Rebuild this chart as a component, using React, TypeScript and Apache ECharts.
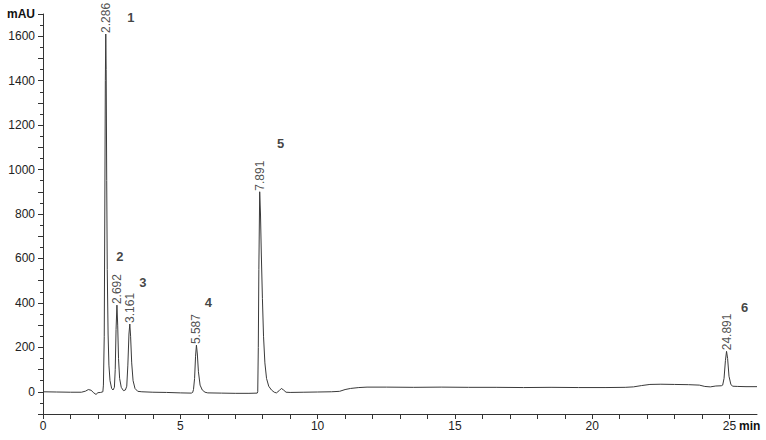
import React, { useEffect, useRef } from "react";
import * as echarts from "echarts";

// Chromatogram trace: [time (min), absorbance (mAU)]
const traceTimes: number[] = [
  0, 0.5, 1.0, 1.4, 1.55, 1.65, 1.75, 1.85, 1.93, 2.0, 2.1, 2.18,
  2.2, 2.23, 2.25, 2.27, 2.286, 2.3, 2.32, 2.34, 2.37, 2.4, 2.44, 2.5, 2.55,
  2.6, 2.63, 2.66, 2.692, 2.72, 2.75, 2.79, 2.85, 2.93, 3.0,
  3.05, 3.09, 3.13, 3.161, 3.19, 3.23, 3.28, 3.35, 3.45,
  3.6, 4.0, 4.5, 5.0, 5.4,
  5.45, 5.48, 5.52, 5.555, 5.587, 5.62, 5.66, 5.72, 5.8, 5.9, 6.0,
  6.5, 7.0, 7.5, 7.8,
  7.82, 7.84, 7.86, 7.891, 7.92, 7.95, 7.99, 8.03, 8.08, 8.14, 8.22, 8.32, 8.42, 8.5, 8.6, 8.68, 8.76, 8.85, 9.0,
  9.5, 10.0, 10.5, 10.8, 11.0, 11.2, 11.5, 11.8, 12.5, 13.5, 14.5, 15.5, 16.5, 17.5, 18.5, 19.5, 20.5, 21.2,
  21.5, 21.8, 22.1, 22.5, 23.0, 23.5, 23.9, 24.1, 24.3, 24.5, 24.7,
  24.75, 24.8, 24.85, 24.891, 24.93, 24.98, 25.05, 25.12, 25.3, 25.6, 26,
];
const traceValues: number[] = [
  0, -1, -2, -2, 3, 10, 7, -5, -12, -4, -3, 0,
  30, 250, 800, 1400, 1610, 1450, 950, 550, 260, 120, 50, 15, 8,
  20, 100, 280, 390, 300, 150, 60, 20, 5, 8,
  25, 120, 260, 305, 250, 130, 50, 15, 2,
  0, -2, -3, -5, -6,
  -3, 10, 60, 160, 210, 170, 90, 30, 8, -2, -5,
  -6, -7, -7, -6,
  0, 200, 550, 900, 800, 620, 420, 250, 130, 60, 25, 8, -2, -5, 5, 15, 8, -2, -3,
  -2, -1, 0, 2, 10, 15, 19, 21, 21, 20, 21, 20, 20, 19, 20, 19, 19, 20,
  22, 28, 33, 34, 33, 32, 30, 24, 22, 26, 27,
  30, 60, 140, 182, 150, 70, 32, 25, 24, 23, 23,
];

// Peaks
const peakTimes: number[] = [2.286, 2.692, 3.161, 5.587, 7.891, 24.891];
const peakHeights: number[] = [1610, 390, 305, 210, 900, 182];
const peakNumbers: string[] = ["1", "2", "3", "4", "5", "6"];

// Axis ticks
const yLabelValues: number[] = [0, 200, 400, 600, 800, 1000, 1200, 1400, 1600];
const xLabelValues: number[] = [0, 5, 10, 15, 20, 25];

// Layout of the peak-number annotations (pixel offsets from the apex)
const numberOffsets: [number, number][] = [
  [25, -16],
  [3, -49],
  [13, -41],
  [12, -43],
  [21, -48],
  [18, -44],
];

const FONT = "Liberation Sans, Arial, sans-serif";

export default function App() {
  const ref = useRef<HTMLDivElement>(null);

  useEffect(() => {
    if (!ref.current) return;
    const chart = echarts.init(ref.current, undefined, { renderer: "svg" });

    const trace = traceTimes.map((t, i) => [t, traceValues[i]]);
    const peaks = peakTimes.map((t, i) => [t, peakHeights[i]]);

    chart.setOption({
      animation: false,
      backgroundColor: "#ffffff",
      grid: { left: 43, right: 9, top: 14, bottom: 26, containLabel: false },
      xAxis: {
        type: "value",
        min: 0,
        max: 26,
        interval: 1,
        axisLine: { show: true, onZero: false, lineStyle: { color: "#333", width: 1 } },
        axisTick: { show: true, length: 5, lineStyle: { color: "#333" } },
        splitLine: { show: false },
        axisLabel: {
          color: "#222",
          fontSize: 12,
          fontFamily: FONT,
          margin: 6,
          showMaxLabel: false,
          formatter: (v: number) => (xLabelValues.includes(v) ? String(v) : ""),
        },
      },
      yAxis: {
        type: "value",
        min: -100,
        max: 1700,
        interval: 100,
        axisLine: { show: true, onZero: false, lineStyle: { color: "#333", width: 1 } },
        axisTick: { show: true, length: 5, lineStyle: { color: "#333" } },
        minorTick: { show: true, splitNumber: 2, length: 3, lineStyle: { color: "#333" } },
        splitLine: { show: false },
        axisLabel: {
          color: "#222",
          fontSize: 12,
          fontFamily: FONT,
          margin: 8,
          formatter: (v: number) => {
            if (v === 1700) return "{u|mAU}";
            return yLabelValues.includes(v) ? String(v) : "";
          },
          rich: {
            u: { fontWeight: "bold", fontSize: 12, fontFamily: FONT, color: "#111" },
          },
        },
      },
      series: [
        {
          type: "line",
          data: trace,
          showSymbol: false,
          symbol: "none",
          lineStyle: { color: "#3a3a3a", width: 1 },
          z: 2,
        },
        {
          type: "scatter",
          data: peaks,
          symbolSize: 0.1,
          silent: true,
          label: {
            show: true,
            position: "top",
            distance: 1,
            rotate: 90,
            align: "left",
            verticalAlign: "middle",
            fontSize: 12,
            fontFamily: FONT,
            color: "#222",
            formatter: (p: any) => p.value[0].toFixed(3),
          },
          z: 3,
        },
        {
          type: "scatter",
          data: peaks.map((p, i) => ({
            value: p,
            label: { offset: numberOffsets[i] },
          })),
          symbolSize: 0.1,
          silent: true,
          label: {
            show: true,
            position: "top",
            distance: 0,
            align: "center",
            verticalAlign: "middle",
            fontSize: 13,
            fontWeight: "bold",
            fontFamily: FONT,
            color: "#111",
            formatter: (p: any) => peakNumbers[p.dataIndex],
          },
          z: 3,
        },
      ],
      graphic: [
        {
          type: "text",
          left: 739,
          top: 420,
          style: {
            text: "min",
            font: `bold 12px ${FONT}`,
            fill: "#111",
          },
        },
      ],
    });

    return () => chart.dispose();
  }, []);

  return (
    <div
      ref={ref}
      style={{ position: "absolute", left: 0, top: 0, width: 766, height: 440 }}
    />
  );
}
